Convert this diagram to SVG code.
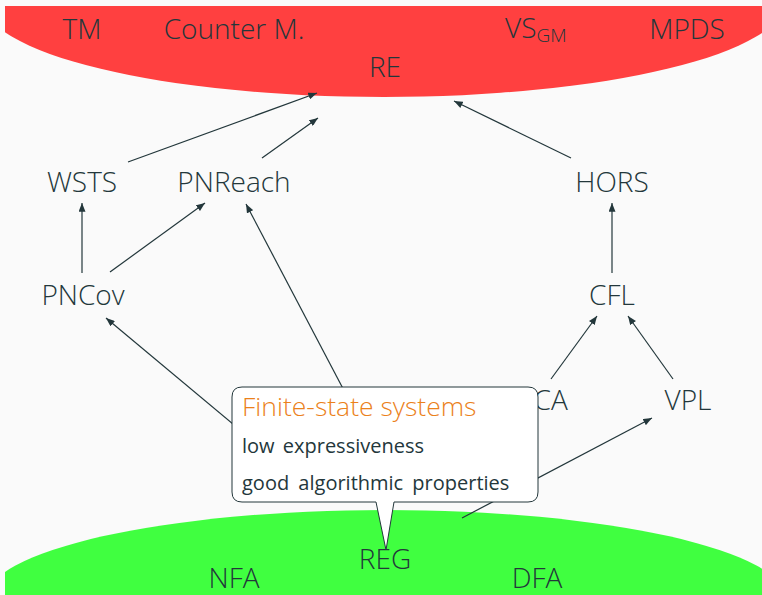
<svg xmlns="http://www.w3.org/2000/svg" width="762" height="595" viewBox="0 0 762 595">
  <defs>
    <clipPath id="frame"><rect x="5" y="6" width="757" height="589"/></clipPath>
    <marker id="ah" viewBox="0 0 10 8" markerWidth="9" markerHeight="7" refX="10" refY="4" orient="auto" markerUnits="userSpaceOnUse">
      <path d="M0,0 L10,4 L0,8 Z" fill="#23373b"/>
    </marker>
    <style>
      .lbl { font-family: "Open Sans", "Liberation Sans", sans-serif; font-weight: 300; font-size: 28px; fill: #23373b; text-anchor: middle; }
      .edge { stroke: #23373b; stroke-width: 1.2; fill: none; marker-end: url(#ah); }
      .box { font-family: "Open Sans", "Liberation Sans", sans-serif; font-weight: 400; fill: #23373b; }
    </style>
  </defs>
  <rect width="762" height="595" fill="#fafafa"/>
  <g clip-path="url(#frame)">
    <ellipse id="re-region" cx="384" cy="0" rx="402" ry="97" fill="#ff4040"/>
    <ellipse id="reg-region" cx="386" cy="600" rx="401" ry="90" fill="#40ff40"/>
  </g>

  <g id="connectors">
    <line class="edge" x1="128" y1="162" x2="317" y2="93"/>
    <line class="edge" x1="262" y1="158" x2="318" y2="118"/>
    <line class="edge" x1="571" y1="158" x2="454" y2="101"/>
    <line class="edge" x1="82" y1="273" x2="82" y2="203"/>
    <line class="edge" x1="110" y1="272" x2="205" y2="203"/>
    <line class="edge" x1="380" y1="459" x2="246" y2="204"/>
    <line class="edge" x1="300" y1="480" x2="106" y2="318"/>
    <line class="edge" x1="612" y1="273" x2="612" y2="203"/>
    <line class="edge" x1="551" y1="379" x2="597" y2="316"/>
    <line class="edge" x1="673" y1="379" x2="628" y2="316"/>
    <line class="edge" x1="462" y1="518" x2="652" y2="418"/>
  </g>

  <g id="TM"><text class="lbl" x="82" y="39">TM</text></g>
  <g id="CounterM"><text class="lbl" x="234" y="39">Counter M.</text></g>
  <g id="VSGM"><text class="lbl" x="505" y="38" style="text-anchor:start">VS<tspan font-size="19" dy="4">GM</tspan></text></g>
  <g id="MPDS"><text class="lbl" x="687" y="39">MPDS</text></g>
  <g id="RE"><text class="lbl" x="385" y="77">RE</text></g>
  <g id="WSTS"><text class="lbl" x="82" y="192">WSTS</text></g>
  <g id="PNReach"><text class="lbl" x="234" y="192">PNReach</text></g>
  <g id="HORS"><text class="lbl" x="612" y="192">HORS</text></g>
  <g id="PNCov"><text class="lbl" x="83" y="305">PNCov</text></g>
  <g id="CFL"><text class="lbl" x="612" y="305">CFL</text></g>
  <g id="OCA"><text class="lbl" x="540" y="410">OCA</text></g>
  <g id="VPL"><text class="lbl" x="688" y="410">VPL</text></g>
  <g id="REG"><text class="lbl" x="385" y="569">REG</text></g>
  <g id="NFA"><text class="lbl" x="234" y="588">NFA</text></g>
  <g id="DFA"><text class="lbl" x="537" y="588">DFA</text></g>

  <g id="callout">
    <path d="M242,387 H528 Q538,387 538,397 V492 Q538,502 528,502 H394 L386,550 L376,502 H242 Q232,502 232,492 V397 Q232,387 242,387 Z" fill="#ffffff" stroke="#23373b" stroke-width="1"/>
    <text class="box" x="242" y="416" font-size="26.5" style="fill:#eb811b;font-weight:300">Finite-state systems</text>
    <text class="box" x="242" y="453" font-size="20" word-spacing="3">low expressiveness</text>
    <text class="box" x="242" y="490" font-size="20" word-spacing="4">good algorithmic properties</text>
  </g>
</svg>
